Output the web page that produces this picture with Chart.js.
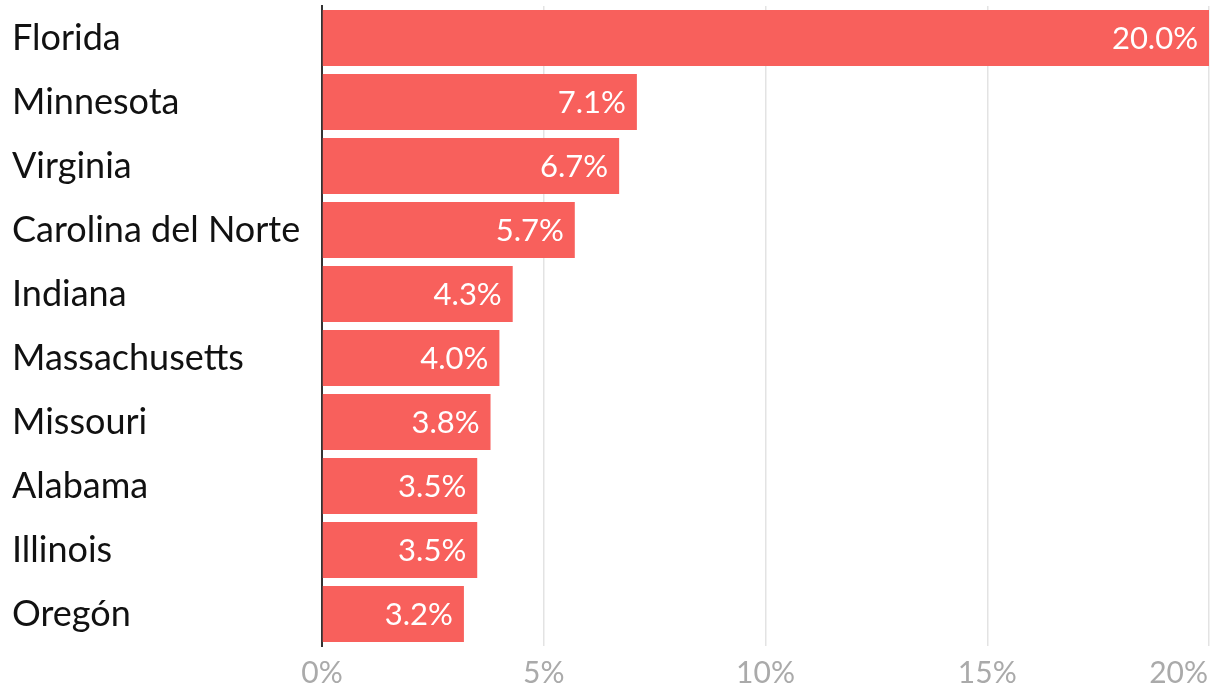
<!DOCTYPE html>
<html>
<head>
<meta charset="utf-8">
<script src="https://cdn.jsdelivr.net/npm/chart.js@4/dist/chart.umd.min.js"></script>
<style>
  html, body { margin: 0; padding: 0; background: #fff; }
  #wrap { width: 1220px; height: 698px; position: relative; }
</style>
</head>
<body>
<div id="wrap"><canvas id="chart"></canvas></div>
<script>
/* ===============================
   DATA
================================= */
const states = ['Florida', 'Minnesota', 'Virginia', 'Carolina del Norte', 'Indiana',
                'Massachusetts', 'Missouri', 'Alabama', 'Illinois', 'Oregón'];
const shares = [20.0, 7.1, 6.7, 5.7, 4.3, 4.0, 3.8, 3.5, 3.5, 3.2];
const xTicks = [0, 5, 10, 15, 20];

const BAR_COLOR = '#f8605c';
const FONT = 'Lato';

/* ===============================
   PLUGINS
================================= */
// value labels inside bar ends
const barLabels = {
    id: 'barLabels',
    afterDatasetsDraw(chart) {
        const ctx = chart.ctx;
        const meta = chart.getDatasetMeta(0);
        ctx.save();
        ctx.font = '31px ' + FONT;
        ctx.fillStyle = '#fff';
        ctx.textAlign = 'right';
        ctx.textBaseline = 'middle';
        meta.data.forEach((bar, i) => {
            ctx.fillText(shares[i].toFixed(1) + '%', bar.x - 11, bar.y + 1);
        });
        ctx.restore();
    }
};

// bottom tick labels (last one right-aligned so it stays on canvas)
const xLabels = {
    id: 'xLabels',
    afterDraw(chart) {
        const ctx = chart.ctx;
        const xs = chart.scales.x;
        ctx.save();
        ctx.font = '30px ' + FONT;
        ctx.fillStyle = '#aaaaaa';
        ctx.textBaseline = 'middle';
        xTicks.forEach((v, i) => {
            const last = i === xTicks.length - 1;
            ctx.textAlign = last ? 'right' : 'center';
            ctx.fillText(v + '%', xs.getPixelForValue(v) + (last ? -1 : 0), chart.chartArea.bottom + 27);
        });
        ctx.restore();
    }
};

/* ===============================
   CHART
================================= */
new Chart(document.getElementById('chart'), {
    type: 'bar',
    data: {
        labels: states,
        datasets: [{
            data: shares,
            backgroundColor: BAR_COLOR,
            borderWidth: 0,
            categoryPercentage: 1,
            barPercentage: 0.875
        }]
    },
    options: {
        indexAxis: 'y',
        responsive: true,
        maintainAspectRatio: false,
        animation: false,
        layout: { padding: { left: 12, right: 11, top: 6, bottom: 52 } },
        plugins: {
            legend: { display: false },
            tooltip: { enabled: false }
        },
        scales: {
            x: {
                min: 0,
                max: 20,
                afterBuildTicks: s => { s.ticks = xTicks.map(v => ({ value: v })); },
                ticks: { display: false },
                grid: { color: '#e3e3e3', lineWidth: 1.5, drawTicks: false },
                border: { display: false },
                afterFit: s => { s.height = 0; }
            },
            y: {
                grid: { display: false },
                border: { display: true, color: '#333', width: 2 },
                ticks: {
                    color: '#111',
                    crossAlign: 'far',
                    font: { family: FONT, size: 36 }
                },
                afterFit: s => {
                    s.width = 310;
                    s.paddingTop = 0;
                    s.paddingBottom = 0;
                }
            }
        }
    },
    plugins: [barLabels, xLabels]
});
</script>
</body>
</html>
